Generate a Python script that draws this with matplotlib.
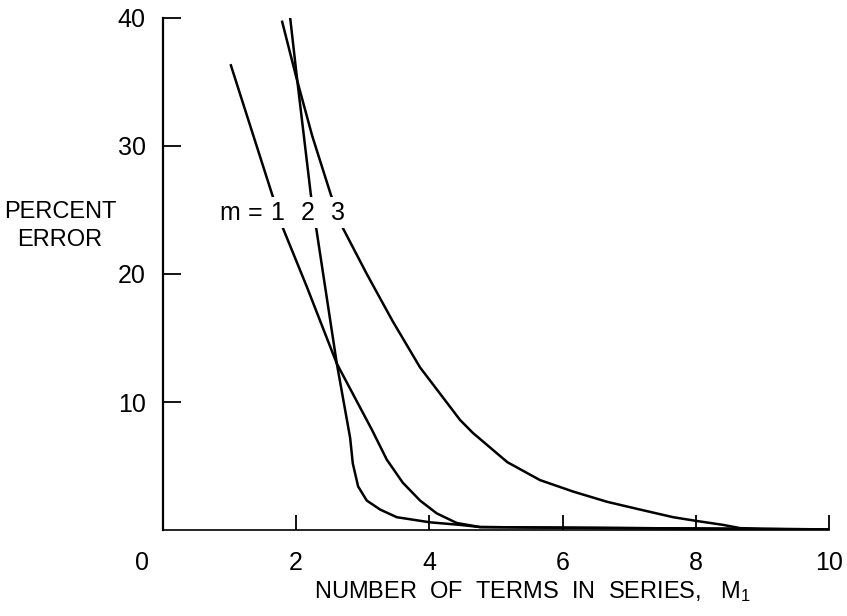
import numpy as np
import matplotlib.pyplot as plt
from matplotlib.transforms import ScaledTranslation

plt.rcParams['font.family'] = ['Liberation Sans', 'DejaVu Sans']

# percent error vs number of terms, one curve per m
m1_x = [1.02, 1.64, 1.80, 2.16, 2.61, 3.14, 3.36, 3.60, 3.86, 4.11, 4.41, 4.76, 5.50, 7.00, 8.50, 10.0]
m1_y = [36.3, 26.2, 23.6, 19.0, 13.0, 7.8, 5.5, 3.7, 2.3, 1.3, 0.55, 0.23, 0.20, 0.15, 0.10, 0.05]

m2_x = [1.91, 2.01, 2.22, 2.30, 2.61, 2.81, 2.85, 2.93, 3.06, 3.26, 3.51, 4.01, 4.46, 4.76, 5.50, 7.00, 8.50, 10.0]
m2_y = [40.0, 35.4, 26.2, 23.6, 13.0, 7.2, 5.2, 3.4, 2.3, 1.6, 1.0, 0.6, 0.4, 0.23, 0.20, 0.15, 0.10, 0.05]

m3_x = [1.79, 2.00, 2.24, 2.52, 2.70, 3.06, 3.45, 3.86, 4.46, 4.65, 5.17, 5.66, 6.16, 6.67, 7.16, 7.66, 8.02, 8.41, 8.66, 9.00, 10.0]
m3_y = [39.7, 35.4, 30.8, 26.2, 23.6, 20.0, 16.3, 12.7, 8.6, 7.6, 5.3, 3.9, 3.0, 2.2, 1.6, 1.0, 0.7, 0.4, 0.15, 0.08, 0.02]

x_ticks = [2, 4, 6, 8, 10]
y_ticks = [10, 20, 30, 40]
curve_labels = ['1', '2', '3']
label_x = [1.71, 2.18, 2.63]
label_y = 24.8

fig = plt.figure(figsize=(8.47, 6.16), dpi=100)
ax = fig.add_axes([0.1924, 0.1396, 0.7864, 0.8312])

for xs, ys in [(m1_x, m1_y), (m2_x, m2_y), (m3_x, m3_y)]:
    ax.plot(xs, ys, color='black', lw=1.8, solid_joinstyle='round')

ax.set_xlim(0, 10)
ax.set_ylim(0, 40)
for side in ['top', 'right']:
    ax.spines[side].set_visible(False)
ax.spines['left'].set_linewidth(1.6)
ax.spines['bottom'].set_linewidth(1.2)

ax.set_xticks(x_ticks)
ax.set_yticks(y_ticks)
ax.tick_params(axis='both', direction='in', width=1.3, labelsize=18)
ax.tick_params(axis='x', pad=15, length=11)
ax.tick_params(axis='y', pad=12.5, length=13)
# origin label sits left of the axis corner
ax.text(-0.32, 0, '0', ha='center', va='top', fontsize=18,
        transform=ax.transData + ScaledTranslation(0, -15 / 72, fig.dpi_scale_trans))

# curve labels, white boxes break the lines behind them
ax.text(1.00, label_y, 'm', ha='center', va='center', fontsize=18)
ax.text(1.38, label_y, '=', ha='center', va='center', fontsize=18)
for lx, lab in zip(label_x, curve_labels):
    ax.text(lx, label_y, lab, ha='center', va='center', fontsize=18,
            bbox=dict(facecolor='white', edgecolor='none', pad=2.5))

fig.text(60 / 847, 1 - 226 / 616, 'PERCENT\nERROR', ha='center', va='center',
         fontsize=17, linespacing=1.3)
fig.text(533 / 847, 1 - 592 / 616,
         'NUMBER  OF  TERMS  IN  SERIES,   $\\mathregular{M_1}$',
         ha='center', va='center', fontsize=17)

fig.savefig('out.png', dpi=100)
